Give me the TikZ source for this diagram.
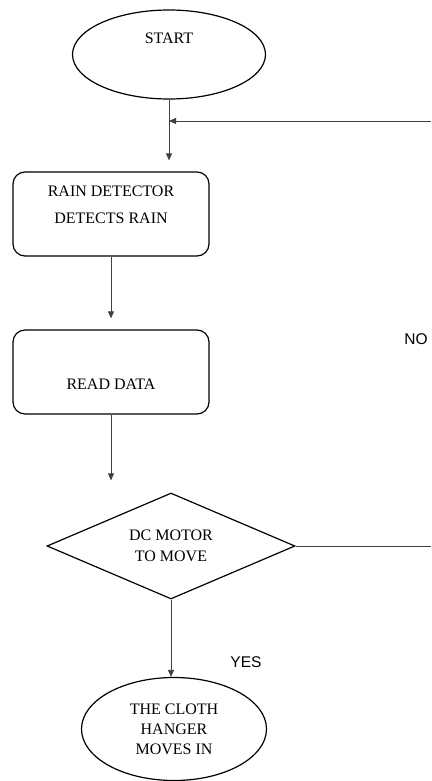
\documentclass[tikz,border=0pt]{standalone}
\usepackage{fontspec}
\setmainfont{Liberation Serif}
\newfontfamily\answerfont{Liberation Sans}
\usetikzlibrary{shapes.geometric,arrows.meta}

\begin{document}
\begin{tikzpicture}
		[x = 1pt, y = -1pt,
		>= {Triangle[length=7pt,width=6pt]},
		every node/.style = {font=\fontsize{16}{20}\selectfont, align=center, inner sep=0pt},
		terminal/.style = {draw, line width=1.2pt, ellipse},
		process/.style = {draw, line width=1.2pt, rounded corners=12pt,
			minimum width=196pt, minimum height=84pt},
		decision/.style = {draw, line width=1.2pt, diamond, aspect=2.3,
			minimum width=248pt, minimum height=106pt},
		flow/.style = {->, line width=0.8pt, black!75},
		answer/.style = {font=\answerfont\fontsize{15.5}{18}\selectfont}]
		\useasboundingbox (0, 0) rectangle (431, 781);
		\node[terminal, minimum width=193pt, minimum height=89pt] (start) at (169, 54.5)
			{\raisebox{11pt}[0pt][0pt]{START}};
		\node[process] (rain) at (111, 214) {RAIN DETECTOR\\[7pt]DETECTS RAIN\\[-1pt]\mbox{}};
		\node[process] (read) at (111, 372) {\raisebox{-17pt}[0pt][0pt]{READ DATA}};
		\node[decision] (dm) at (171, 546) {DC MOTOR\\[1pt]TO MOVE};
		\node[terminal, minimum width=185pt, minimum height=103pt] (hanger) at (174, 729)
			{THE CLOTH\\HANGER\\MOVES IN};
		\node[answer] (no) at (416, 339) {NO};
		\node[answer] (yes) at (246, 662) {YES};
		\coordinate (back) at (431, 121);
		\coordinate (noend) at (431, 546);

		\draw[flow, shorten >=11pt] (start.south) -- (start.south |- rain.north);
		\draw[flow] (back) -- (start.south |- back);
		\draw[flow, shorten >=11pt] (rain.south) -- (read.north);
		\draw[flow, shorten >=12pt] (read.south) -- (read.south |- dm.north);
		\draw[flow] (dm.south) -- (dm.south |- hanger.north);
		\draw[line width=0.8pt, black!75] (dm.east) -- (noend);
	\end{tikzpicture}
\end{document}
